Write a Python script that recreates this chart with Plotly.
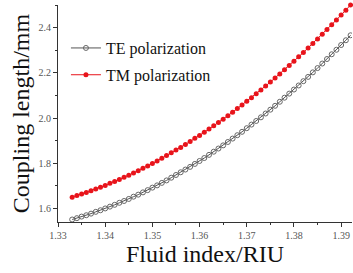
import plotly.graph_objects as go

fluid_index = [round(1.333 + 0.001 * i, 3) for i in range(60)]

te_length = [1.551, 1.557, 1.564, 1.570, 1.577, 1.585, 1.592, 1.600, 1.608, 1.616,
             1.625, 1.633, 1.642, 1.652, 1.661, 1.671, 1.681, 1.692, 1.702, 1.713,
             1.724, 1.736, 1.748, 1.760, 1.772, 1.784, 1.797, 1.810, 1.823, 1.837,
             1.851, 1.865, 1.879, 1.894, 1.909, 1.924, 1.939, 1.955, 1.971, 1.987,
             2.003, 2.020, 2.037, 2.054, 2.072, 2.090, 2.108, 2.126, 2.144, 2.163,
             2.182, 2.202, 2.221, 2.241, 2.261, 2.282, 2.302, 2.323, 2.344, 2.366]

tm_length = [1.650, 1.657, 1.664, 1.671, 1.678, 1.686, 1.694, 1.702, 1.711, 1.719,
             1.728, 1.738, 1.747, 1.757, 1.767, 1.778, 1.788, 1.799, 1.810, 1.822,
             1.834, 1.846, 1.858, 1.870, 1.883, 1.896, 1.910, 1.923, 1.937, 1.951,
             1.966, 1.980, 1.995, 2.010, 2.026, 2.042, 2.058, 2.074, 2.090, 2.107,
             2.124, 2.142, 2.159, 2.177, 2.195, 2.214, 2.232, 2.251, 2.271, 2.290,
             2.310, 2.330, 2.350, 2.371, 2.392, 2.413, 2.434, 2.456, 2.477, 2.500]

x_ticks = [1.33, 1.34, 1.35, 1.36, 1.37, 1.38, 1.39]
y_ticks = [1.6, 1.8, 2.0, 2.2, 2.4]

serif = "Liberation Serif, Times New Roman, serif"

fig = go.Figure()
fig.add_trace(go.Scatter(
    x=fluid_index, y=te_length, mode="lines+markers", name="TE polarization",
    legendgroup="te",
    line=dict(color="#555555", width=1),
    marker=dict(symbol="circle-open", size=5, color="#666666", line=dict(width=1)),
))
fig.add_trace(go.Scatter(
    x=fluid_index, y=tm_length, mode="lines+markers", name="TM polarization",
    legendgroup="tm",
    line=dict(color="#e8141b", width=1),
    marker=dict(symbol="circle", size=5, color="#e8141b"),
    cliponaxis=False,
))

fig.update_layout(
    width=353, height=273,
    margin=dict(l=58, r=1, t=5, b=51, autoexpand=False),
    paper_bgcolor="white", plot_bgcolor="white",
    font=dict(family=serif, color="#000000"),
    showlegend=True,
    legend=dict(
        x=0.027, y=0.88, xanchor="left", yanchor="top",
        bgcolor="rgba(0,0,0,0)", borderwidth=0,
        font=dict(family=serif, size=16, color="#111111"),
        itemwidth=30, tracegroupgap=3,
    ),
)
fig.update_xaxes(
    range=[1.33, 1.3923], tickvals=x_ticks, ticktext=[f"{v:.2f}" for v in x_ticks],
    automargin=False,
    showline=True, linecolor="#333333", linewidth=1, mirror=False,
    ticks="outside", ticklen=4, tickcolor="#333333",
    minor=dict(dtick=0.005, tick0=1.33, ticks="outside", ticklen=2, tickcolor="#333333"),
    showgrid=False, zeroline=False,
    tickfont=dict(family=serif, size=10, color="#555555"),
    title=dict(text="Fluid index/RIU", font=dict(family=serif, size=24, color="#111111"), standoff=0),
)
fig.update_yaxes(
    range=[1.54, 2.5], tickvals=y_ticks, ticktext=[f"{v:.1f}" for v in y_ticks],
    automargin=False,
    showline=True, linecolor="#333333", linewidth=1, mirror=False,
    ticks="outside", ticklen=4, tickcolor="#333333",
    minor=dict(dtick=0.1, tick0=1.6, ticks="outside", ticklen=2, tickcolor="#333333"),
    showgrid=False, zeroline=False,
    tickfont=dict(family=serif, size=10, color="#555555"),
    title=dict(text="Coupling length/mm", font=dict(family=serif, size=24, color="#111111"), standoff=2),
)

fig.write_html("out.html", config={"displayModeBar": False},
               post_script="document.body.style.margin='0';")
